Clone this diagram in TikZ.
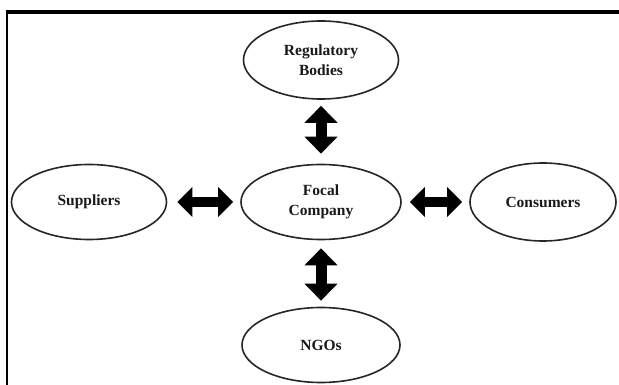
\documentclass[tikz,border=0pt]{standalone}
\usepackage{fontspec}
\setmainfont{Liberation Serif}
\usetikzlibrary{shapes.geometric,arrows.meta}
\tikzset{
  actor/.style={ellipse, draw=black!85, line width=1.6pt, fill=white, inner sep=0pt,
    font=\bfseries\fontsize{15.5}{20}\selectfont, align=center, text=black!90},
  biarrow/.style={line width=11pt, draw=black,
    {Triangle[length=17pt,width=32pt]}-{Triangle[length=17pt,width=32pt]}},
  hbiarrow/.style={line width=10pt, draw=black,
    {Triangle[length=15pt,width=29pt]}-{Triangle[length=15pt,width=29pt]}}
}
\begin{document}
\begin{tikzpicture}[x=1pt,y=-1pt]
\useasboundingbox (0,0) rectangle (619,385);
\fill[white] (0,0) rectangle (619,385);
% frame
\draw[line width=4pt] (6,12) -- (619,12);
\draw[line width=2.5pt] (7,10) -- (7,385);
% actors
\node[actor, minimum width=155pt, minimum height=78pt] (reg) at (321,60) {Regulatory\\Bodies};
\node[actor, minimum width=160pt, minimum height=75pt] (focal) at (321,202) {Focal\\Company};
\node[actor, minimum width=155pt, minimum height=75pt] (sup) at (89,202) {Suppliers};
\node[actor, minimum width=146pt, minimum height=78pt] (con) at (543,202) {Consumers};
\node[actor, minimum width=158pt, minimum height=75pt] (ngo) at (321,345) {NGOs};
% connectors
\draw[biarrow, shorten <=6pt, shorten >=10pt] (reg) -- (focal);
\draw[biarrow, shorten <=8pt, shorten >=6pt] (focal) -- (ngo);
\draw[hbiarrow, shorten <=10pt, shorten >=7pt] (sup) -- (focal);
\draw[hbiarrow, shorten <=8pt, shorten >=7pt] (focal) -- (con);
\end{tikzpicture}
\end{document}
